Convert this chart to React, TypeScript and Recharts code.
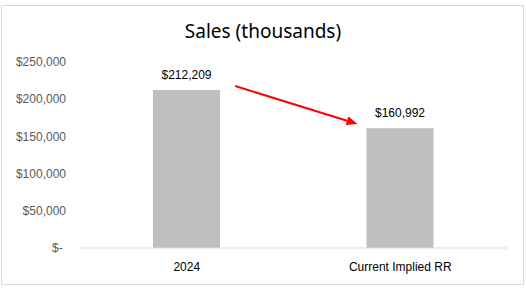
import React from "react";
import {
  Bar,
  BarChart,
  LabelList,
  ReferenceLine,
  XAxis,
  YAxis,
} from "recharts";

const categories = ["2024", "Current Implied RR"];
const sales = [212209, 160992];
const yTicks = [0, 50000, 100000, 150000, 200000, 250000];
// arrow runs between these two levels (drawn only over the gap between bars)
const arrowFrom = 238000;
const arrowTo = 148700;

const data = categories.map((name, i) => ({ name, sales: sales[i] }));

const money = (v: number) =>
  v === 0 ? "$-\u00a0" : "$" + v.toLocaleString("en-US");

const Arrow = (props: any) => {
  const { x1, y1, x2, y2 } = props;
  if ([x1, y1, x2, y2].some((v) => typeof v !== "number")) return null;
  const lerp = (t: number) => [x1 + (x2 - x1) * t, y1 + (y2 - y1) * t];
  const [sx, sy] = lerp(0.227);
  const [ex, ey] = lerp(0.8);
  const ang = Math.atan2(ey - sy, ex - sx);
  const len = 11;
  const w = 4.5;
  const bx = ex - len * Math.cos(ang);
  const by = ey - len * Math.sin(ang);
  const px = -Math.sin(ang) * w;
  const py = Math.cos(ang) * w;
  return (
    <g>
      <line x1={sx} y1={sy} x2={bx} y2={by} stroke="#ff0000" strokeWidth={2} />
      <polygon
        points={`${ex},${ey} ${bx + px},${by + py} ${bx - px},${by - py}`}
        fill="#ff0000"
      />
    </g>
  );
};

export default function App() {
  return (
    <div
      style={{
        position: "absolute",
        left: 0,
        top: 0,
        width: 526,
        height: 288,
        background: "#fff",
      }}
    >
      <div
        style={{
          position: "absolute",
          left: 1,
          top: 5,
          width: 521,
          height: 278,
          border: "1px solid #d9d9d9",
        }}
      />
      <div
        style={{
          position: "absolute",
          left: 0,
          top: 19,
          width: 526,
          textAlign: "center",
          fontFamily: "'Noto Sans', sans-serif",
          fontSize: 19,
          color: "#000",
          lineHeight: "24px",
        }}
      >
        Sales (thousands)
      </div>
      <BarChart
        width={526}
        height={288}
        data={data}
        margin={{ top: 62, right: 19, bottom: 10, left: 0 }}
        style={{ position: "absolute", left: 0, top: 0 }}
      >
        <XAxis
          dataKey="name"
          axisLine={{ stroke: "#d9d9d9" }}
          tickLine={false}
          tickMargin={8}
          tick={{ fill: "#000", fontSize: 12, fontFamily: "'Liberation Sans', Arial, sans-serif" }}
        />
        <YAxis
          width={80}
          domain={[0, 250000]}
          ticks={yTicks}
          tickFormatter={money}
          axisLine={false}
          tickLine={false}
          tickMargin={8}
          tick={{ fill: "#595959", fontSize: 12, fontFamily: "'Liberation Sans', Arial, sans-serif" }}
        />
        <Bar dataKey="sales" fill="#bfbfbf" barSize={67} isAnimationActive={false}>
          <LabelList
            dataKey="sales"
            position="top"
            offset={11}
            formatter={(v: any) => money(Number(v))}
            style={{ fill: "#000", fontSize: 12, fontFamily: "'Liberation Sans', Arial, sans-serif" }}
          />
        </Bar>
        <ReferenceLine
          segment={[
            { x: categories[0], y: arrowFrom },
            { x: categories[1], y: arrowTo },
          ]}
          shape={Arrow}
          ifOverflow="visible"
        />
      </BarChart>
    </div>
  );
}
